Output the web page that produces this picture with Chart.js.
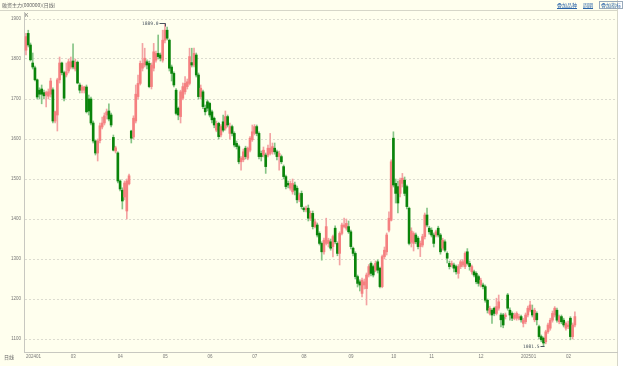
<!DOCTYPE html>
<html><head><meta charset="utf-8">
<script src="https://cdn.jsdelivr.net/npm/chart.js@4.4.1/dist/chart.umd.min.js"></script>
<style>
html,body{margin:0;padding:0;background:#fff;}
#wrap{position:absolute;left:0;top:0;width:618px;height:366px;background:#ffffee;}
canvas{position:absolute;left:0;top:0;}
.t{position:absolute;font-family:"Noto Sans CJK SC",sans-serif;font-size:5px;color:#666;line-height:6px;white-space:nowrap;}
.lk{color:#2a64a8;text-decoration:underline;}
</style></head>
<body>
<div id="wrap">
<canvas id="c" width="618" height="366"></canvas>
<div class="t" style="left:2px;top:2px">融资主力(000000)(日线)</div>
<div class="t lk" style="left:557px;top:2px">叠加品种</div>
<div class="t lk" style="left:583px;top:2px">周期</div>
<div class="t lk" style="left:599px;top:1px;border:1px solid #9ab;text-decoration:none;padding:0 1px">叠加指标</div>
<div class="t" style="left:25px;top:12px">K</div>
<div class="t" style="left:4px;top:354px">日线</div>
</div>
<script>
const monthIdx = [0,20,41,61,81,101,123,144,163,180,202,221,241];
const monthLbl = ['202401','03','04','05','06','07','08','09','10','11','12','202501','02'];
const yTicks = [1100,1200,1300,1400,1500,1600,1700,1800,1900];

const opens = [
1822,1864,1835,1790,1778,1748,1722,1725,1716,1710,
1707,1712,1723,1645,1660,1748,1790,1766,1760,1770,
1780,1795,1775,1792,1735,1722,1722,1730,1700,1700,
1640,1595,1565,1596,1630,1640,1660,1670,1660,1604,
1570,1565,1495,1472,1455,1420,1488,1620,1605,1645,
1706,1739,1777,1785,1793,1789,1731,1777,1797,1814,
1810,1797,1847,1872,1847,1780,1764,1722,1677,1656,
1702,1718,1731,1739,1791,1785,1810,1760,1706,1718,
1677,1693,1689,1668,1652,1622,1639,1610,1643,1627,
1656,1614,1631,1614,1589,1581,1543,1548,1577,1552,
1572,1598,1614,1631,1614,1564,1560,1560,1560,1564,
1568,1577,1568,1556,1556,1531,1506,1489,1477,1468,
1485,1477,1448,1464,1427,1423,1427,1402,1414,1381,
1385,1364,1339,1318,1339,1339,1343,1331,1377,1339,
1314,1364,1381,1377,1381,1368,1327,1314,1256,1243,
1214,1235,1226,1260,1289,1281,1272,1293,1277,1231,
1306,1318,1372,1397,1602,1489,1481,1464,1489,1497,
1481,1427,1342,1339,1360,1352,1331,1335,1356,1410,
1377,1372,1360,1360,1377,1360,1327,1343,1314,1289,
1285,1285,1281,1264,1281,1285,1281,1318,1289,1268,
1268,1264,1256,1235,1235,1231,1197,1164,1172,1177,
1164,1177,1160,1160,1156,1210,1172,1164,1152,1152,
1152,1156,1139,1143,1160,1172,1172,1148,1164,1131,
1106,1102,1093,1118,1127,1147,1160,1172,1143,1156,
1147,1127,1131,1152,1106,1135];
const highs = [
1864,1872,1840,1815,1782,1750,1728,1735,1722,1720,
1725,1752,1728,1670,1752,1805,1792,1770,1790,1800,
1805,1838,1800,1795,1740,1735,1732,1735,1710,1705,
1645,1598,1600,1640,1655,1665,1675,1688,1665,1610,
1582,1568,1498,1478,1495,1500,1512,1622,1658,1735,
1760,1795,1839,1827,1798,1795,1790,1839,1820,1860,
1815,1872,1889,1880,1850,1785,1768,1726,1680,1722,
1740,1756,1750,1827,1827,1827,1815,1765,1735,1722,
1685,1698,1692,1672,1655,1645,1642,1636,1660,1670,
1660,1640,1635,1618,1595,1585,1556,1575,1582,1580,
1606,1635,1636,1635,1618,1570,1580,1565,1585,1614,
1590,1590,1572,1570,1560,1535,1510,1495,1495,1500,
1492,1482,1465,1470,1430,1432,1435,1420,1420,1400,
1390,1368,1343,1352,1402,1352,1350,1360,1383,1343,
1368,1390,1402,1400,1395,1372,1330,1318,1260,1248,
1252,1250,1265,1286,1293,1285,1295,1298,1280,1310,
1330,1365,1418,1548,1618,1500,1495,1502,1514,1505,
1485,1430,1378,1368,1365,1356,1345,1362,1415,1427,
1382,1378,1365,1372,1382,1364,1352,1348,1318,1295,
1295,1290,1285,1286,1298,1298,1318,1326,1295,1285,
1272,1268,1260,1252,1240,1235,1200,1182,1176,1180,
1202,1210,1165,1164,1165,1214,1178,1168,1165,1168,
1162,1160,1152,1165,1182,1195,1185,1177,1168,1135,
1110,1105,1122,1140,1152,1170,1181,1177,1160,1160,
1152,1143,1145,1156,1140,1168];
const lows = [
1810,1830,1795,1775,1745,1700,1700,1688,1700,1680,
1700,1705,1640,1640,1620,1740,1760,1695,1755,1765,
1775,1775,1770,1738,1715,1715,1715,1665,1660,1635,
1590,1560,1545,1590,1625,1635,1650,1645,1630,1570,
1565,1490,1470,1425,1448,1400,1485,1590,1600,1640,
1700,1735,1770,1780,1775,1728,1725,1770,1792,1800,
1795,1792,1840,1848,1770,1745,1730,1660,1648,1640,
1698,1712,1725,1735,1780,1780,1755,1700,1700,1676,
1660,1670,1655,1640,1628,1618,1600,1605,1618,1622,
1630,1600,1608,1580,1575,1538,1522,1543,1550,1548,
1568,1594,1610,1608,1550,1545,1555,1514,1555,1560,
1562,1562,1548,1522,1538,1500,1475,1478,1472,1462,
1460,1440,1443,1425,1418,1418,1395,1396,1375,1378,
1355,1335,1297,1312,1335,1330,1322,1305,1338,1308,
1285,1360,1378,1372,1364,1325,1308,1250,1230,1220,
1205,1225,1185,1255,1258,1255,1268,1265,1228,1228,
1300,1310,1368,1395,1480,1440,1415,1455,1480,1458,
1425,1335,1330,1320,1338,1325,1306,1330,1350,1380,
1362,1355,1330,1355,1355,1312,1322,1318,1290,1275,
1280,1268,1262,1252,1276,1280,1276,1285,1272,1262,
1255,1238,1232,1230,1225,1192,1165,1160,1139,1158,
1160,1172,1130,1128,1150,1172,1147,1146,1148,1147,
1148,1142,1130,1138,1155,1168,1155,1143,1135,1100,
1093,1081.5,1088,1114,1122,1142,1155,1142,1138,1138,
1130,1122,1126,1098,1100,1130];
const closes = [
1856,1835,1798,1780,1748,1705,1712,1712,1708,1716,
1718,1745,1645,1668,1748,1790,1766,1702,1768,1793,
1793,1780,1792,1740,1722,1730,1730,1668,1670,1640,
1595,1565,1595,1633,1640,1658,1668,1650,1635,1572,
1578,1495,1475,1445,1490,1495,1508,1602,1652,1712,
1739,1789,1789,1802,1785,1731,1785,1818,1814,1806,
1802,1847,1872,1852,1777,1764,1735,1664,1660,1718,
1731,1739,1743,1806,1785,1814,1760,1706,1727,1681,
1668,1677,1660,1648,1635,1639,1606,1631,1622,1656,
1635,1631,1614,1585,1581,1543,1552,1568,1556,1577,
1602,1618,1631,1614,1556,1556,1572,1531,1577,1577,
1581,1568,1556,1564,1543,1506,1481,1485,1489,1489,
1472,1448,1460,1431,1423,1427,1402,1414,1381,1393,
1360,1339,1318,1347,1381,1347,1327,1356,1343,1314,
1364,1385,1385,1389,1368,1331,1314,1256,1239,1235,
1247,1243,1260,1281,1264,1260,1289,1272,1231,1306,
1322,1360,1402,1543,1485,1464,1440,1497,1502,1464,
1431,1339,1370,1364,1343,1331,1339,1356,1410,1385,
1368,1360,1339,1368,1360,1318,1347,1322,1302,1281,
1289,1277,1268,1281,1293,1293,1314,1289,1281,1281,
1260,1243,1239,1247,1231,1197,1172,1177,1160,1164,
1181,1193,1148,1135,1160,1177,1160,1152,1160,1164,
1156,1148,1147,1160,1177,1185,1160,1172,1148,1106,
1098,1090,1118,1135,1147,1164,1177,1147,1156,1143,
1135,1139,1135,1106,1135,1156];

const up = closes.map((c,i)=>c>=opens[i]);
const wickData = highs.map((h,i)=>({x:i, y:[lows[i], h]}));
const bodyData = opens.map((o,i)=>({x:i, y:[o, closes[i]]}));

const frame = {
  id:'frame',
  beforeDraw(chart){
    const {ctx} = chart;
    ctx.save();
    ctx.strokeStyle='#d6d6c8'; ctx.lineWidth=1;
    ctx.beginPath();
    ctx.moveTo(0,10.5); ctx.lineTo(618,10.5);
    ctx.moveTo(617.5,0); ctx.lineTo(617.5,366);
    ctx.stroke();
    ctx.restore();
  },
  afterDatasetsDraw(chart){
    const {ctx, scales:{x,y}} = chart;
    const hi = Math.max(...highs), hiI = highs.indexOf(hi);
    const lo = Math.min(...lows), loI = lows.indexOf(lo);
    ctx.save();
    ctx.font = '4.6px "DejaVu Sans Mono"';
    ctx.fillStyle = '#4a5560'; ctx.strokeStyle = '#4a5560'; ctx.lineWidth = 1;
    ctx.textBaseline = 'middle'; ctx.textAlign = 'right';
    let px = Math.round(x.getPixelForValue(hiI)) + 0.5, py = Math.round(y.getPixelForValue(hi)) + 0.5;
    ctx.fillText(hi.toFixed(1), px - 7, py);
    ctx.beginPath(); ctx.moveTo(px - 6, py); ctx.lineTo(px, py); ctx.lineTo(px, py + 3); ctx.stroke();
    px = Math.round(x.getPixelForValue(loI)) + 0.5; py = Math.round(y.getPixelForValue(lo)) + 0.5;
    ctx.fillText(lo.toFixed(1), px - 5, py);
    ctx.beginPath(); ctx.moveTo(px - 4, py); ctx.lineTo(px, py); ctx.stroke();
    ctx.restore();
  }
};

new Chart(document.getElementById('c'), {
  type: 'bar',
  data: { datasets: [
    { data: wickData, backgroundColor: up.map(u => u ? '#f3a3a3' : '#86c486'),
      barThickness: 1, grouped: false, order: 2 },
    { data: bodyData, backgroundColor: up.map(u => u ? '#f58080' : '#0a840a'),
      barThickness: 2, minBarLength: 1, grouped: false, order: 1 }
  ]},
  options: {
    responsive: false, animation: false, devicePixelRatio: 1,
    layout: { padding: { top: 12, right: 1, left: 0, bottom: 0 } },
    plugins: { legend: { display: false }, tooltip: { enabled: false } },
    scales: {
      x: { type: 'linear', min: -0.89, max: 263.8, offset: false,
        grid: { display: false, drawTicks: false },
        border: { color: '#c8c8c0' },
        afterBuildTicks: s => { s.ticks = monthIdx.map(v => ({ value: v })); },
        afterFit: s => { s.height = 14; },
        ticks: { autoSkip: false, maxRotation: 0, align: 'start', padding: 2,
          font: { size: 4.5, family: 'Liberation Sans' }, color: '#777',
          callback: v => { const k = monthIdx.indexOf(v); return k >= 0 ? monthLbl[k] : ''; } } },
      y: { type: 'linear', min: 1067.5, max: 1917.5,
        afterBuildTicks: s => { s.ticks = yTicks.map(v => ({ value: v })); },
        afterFit: s => { s.width = 24; },
        grid: { color: '#dcdcd0', drawTicks: false },
        border: { color: '#c8c8c0', dash: [2, 2] },
        ticks: { padding: 3, font: { size: 4.5, family: 'Liberation Sans' }, color: '#777',
          callback: v => String(v) } }
    }
  },
  plugins: [frame]
});
</script>
</body></html>
